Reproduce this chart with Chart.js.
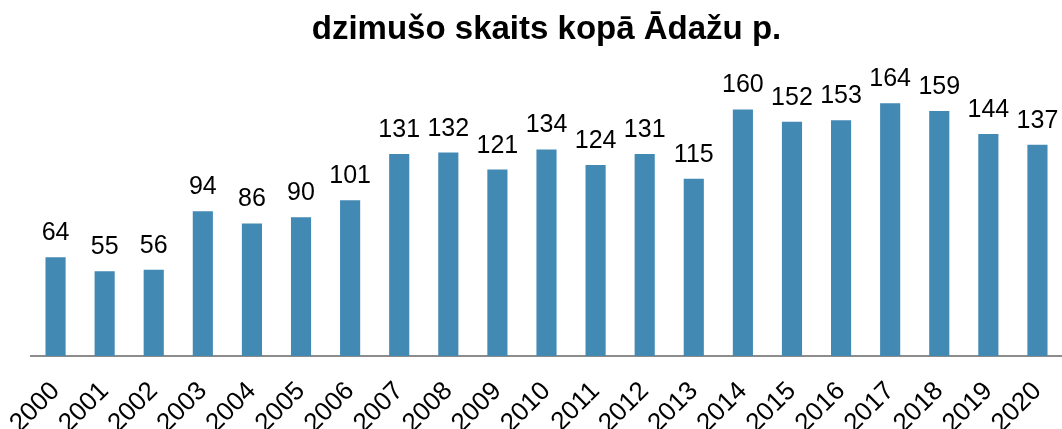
<!DOCTYPE html>
<html>
<head>
<meta charset="utf-8">
<script src="https://cdn.jsdelivr.net/npm/chart.js@4"></script>
<style>
    html, body { margin: 0; padding: 0; background: #fff; }
    #wrap { width: 1062px; height: 429px; }
</style>
</head>
<body>
<div id="wrap"><canvas id="birthsChart"></canvas></div>
<script>
// Data
const years = ['2000', '2001', '2002', '2003', '2004', '2005', '2006', '2007', '2008', '2009', '2010',
    '2011', '2012', '2013', '2014', '2015', '2016', '2017', '2018', '2019', '2020'];
const births = [64, 55, 56, 94, 86, 90, 101, 131, 132, 121, 134, 124, 131, 115, 160, 152, 153, 164, 159, 144, 137];
const chartTitle = 'dzimušo skaits kopā Ādažu p.';

(function() {
    'use strict';

    // Value labels above each bar
    const valueLabels = {
        id: 'valueLabels',
        afterDatasetsDraw(chart) {
            const ctx = chart.ctx;
            const meta = chart.getDatasetMeta(0);
            ctx.save();
            ctx.font = '25px "Liberation Sans", Arial, sans-serif';
            ctx.fillStyle = '#000';
            ctx.textAlign = 'center';
            ctx.textBaseline = 'alphabetic';
            meta.data.forEach(function(bar, i) {
                ctx.fillText(String(births[i]), bar.x, bar.y - 17);
            });
            ctx.restore();
        }
    };

    new Chart(document.getElementById('birthsChart'), {
        type: 'bar',
        data: {
            labels: years,
            datasets: [{
                data: births,
                backgroundColor: '#4289b4',
                borderWidth: 0,
                categoryPercentage: 1,
                barPercentage: 0.41
            }]
        },
        options: {
            responsive: true,
            maintainAspectRatio: false,
            animation: false,
            layout: { padding: { left: 31, right: 0, top: 0, bottom: 0 } },
            plugins: {
                legend: { display: false },
                tooltip: { enabled: false },
                title: {
                    display: true,
                    text: chartTitle,
                    color: '#000',
                    font: { family: '"Liberation Sans", Arial, sans-serif', size: 33, weight: 'bold' },
                    padding: { top: 10, bottom: 29 }
                }
            },
            scales: {
                y: {
                    display: false,
                    min: 0,
                    max: 180
                },
                x: {
                    grid: { display: false },
                    border: { display: true, color: '#8c8c8c', width: 2 },
                    ticks: {
                        color: '#000',
                        font: { family: '"Liberation Sans", Arial, sans-serif', size: 26 },
                        maxRotation: 45,
                        minRotation: 45,
                        autoSkip: false,
                        padding: 12
                    },
                    afterFit: function(scale) {
                        scale.height = 73;
                        scale.paddingLeft = 0;
                        scale.paddingRight = 0;
                    }
                }
            }
        },
        plugins: [valueLabels]
    });
})();
</script>
</body>
</html>
